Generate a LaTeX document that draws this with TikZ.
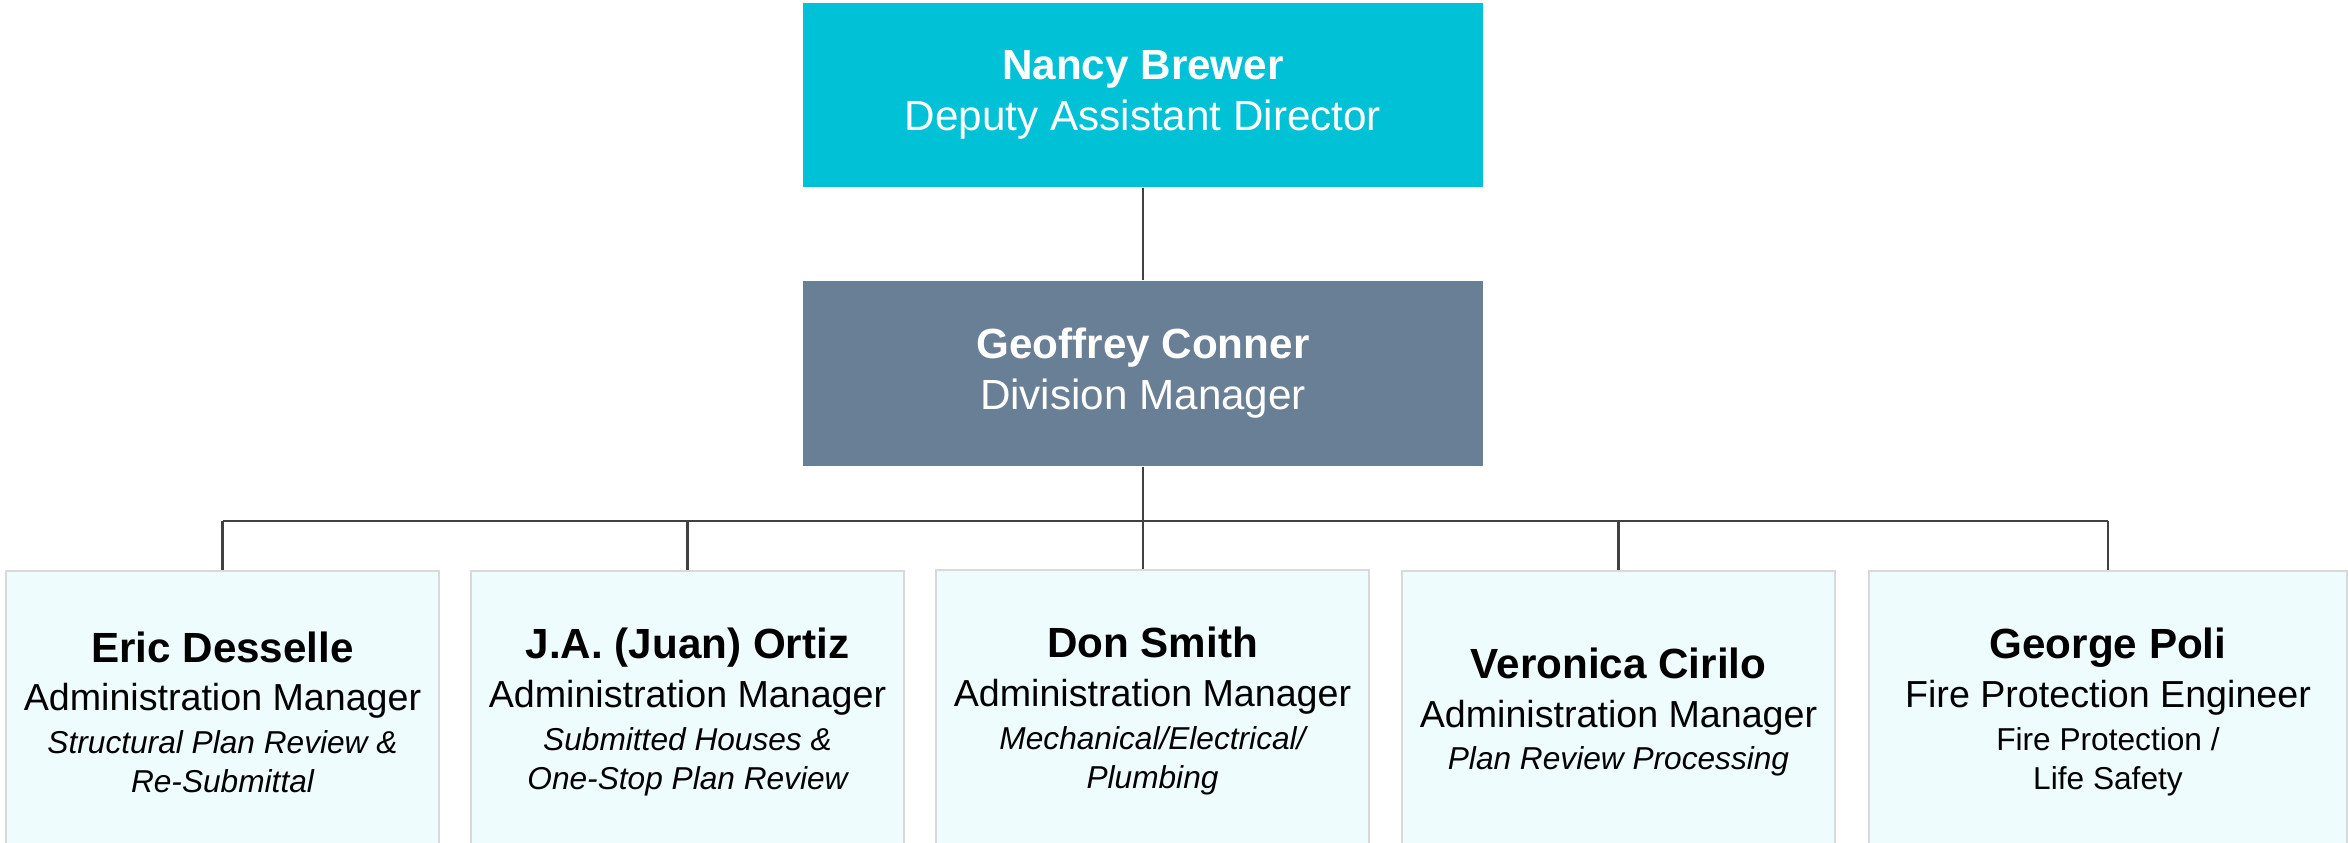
\documentclass[tikz,border=0pt]{standalone}
\usepackage{fontspec}
\setmainfont{Liberation Sans}
\usepackage{tikz}

\definecolor{chiefcyan}{RGB}{0,193,213}
\definecolor{slateblue}{RGB}{104,127,150}
\definecolor{stafffill}{RGB}{238,252,253}
\definecolor{staffline}{RGB}{217,217,217}
\definecolor{wire}{RGB}{64,64,64}

\newcommand{\namesize}{\fontsize{12}{13}\selectfont\bfseries}
\newcommand{\subsize}{\fontsize{9}{10}\selectfont}

\begin{document}
\begin{tikzpicture}[x=0.01cm, y=-0.01cm,
    headbox/.style={minimum width=68mm, minimum height=18.4mm, inner sep=0pt, text=white,
        align=center, font=\fontsize{12}{14.5}\selectfont},
    staffbox/.style={draw=staffline, line width=0.6pt, fill=stafffill, minimum width=43.3mm,
        minimum height=28.2mm, inner sep=0pt, align=center, font=\fontsize{10.7}{11.1}\selectfont},
    wireline/.style={draw=wire, line width=0.6pt}]
    \useasboundingbox (0,0) rectangle (2348,843);

    % Leitung oben.
    \node[headbox, fill=chiefcyan] (nancy) at (1143,95)
        {\textbf{Nancy Brewer}\\ Deputy Assistant Director};
    \node[headbox, fill=slateblue, minimum height=18.5mm] (geoffrey) at (1143,373.5)
        {\textbf{Geoffrey Conner}\\ Division Manager};

    % Mitarbeiter.
    \node[staffbox] (eric) at (222.5,712)
        {{\namesize Eric Desselle}\\[2.8pt] Administration Manager\\[0.9pt]
         {\subsize\itshape Structural Plan Review \&}\\ {\subsize\itshape Re-Submittal}};
    \node[staffbox] (juan) at (687.5,712)
        {{\namesize J.A. (Juan) Ortiz}\\[2.8pt] Administration Manager\\[0.9pt]
         {\subsize\itshape Submitted Houses \&}\\ {\subsize\itshape One-Stop Plan Review}};
    \node[staffbox] (don) at (1152.5,711)
        {{\namesize Don Smith}\\[2.8pt] Administration Manager\\[0.9pt]
         {\subsize\itshape Mechanical/Electrical/}\\ {\subsize\itshape Plumbing}};
    \node[staffbox] (veronica) at (1618.5,712)
        {{\namesize Veronica Cirilo}\\[2.8pt] Administration Manager\\[0.9pt]
         {\subsize\itshape Plan Review Processing}};
    \node[staffbox, minimum width=47.8mm] (poli) at (2108,712)
        {{\namesize George Poli}\\[2.8pt] Fire Protection Engineer\\[0.9pt]
         {\subsize Fire Protection /}\\ {\subsize Life Safety}};

    % Linien.
    \coordinate (bus) at (0,521);
    \draw[wireline] (nancy.south) -- (geoffrey.north);
    \draw[wireline] (geoffrey.south) -- (geoffrey.south |- don.north);
    \draw[wireline] (eric.north |- bus) -- (poli.north |- bus);
    \foreach \n in {eric,juan,veronica,poli}
    {
        \draw[wireline] (\n.north |- bus) -- (\n.north);
    }
\end{tikzpicture}
\end{document}
